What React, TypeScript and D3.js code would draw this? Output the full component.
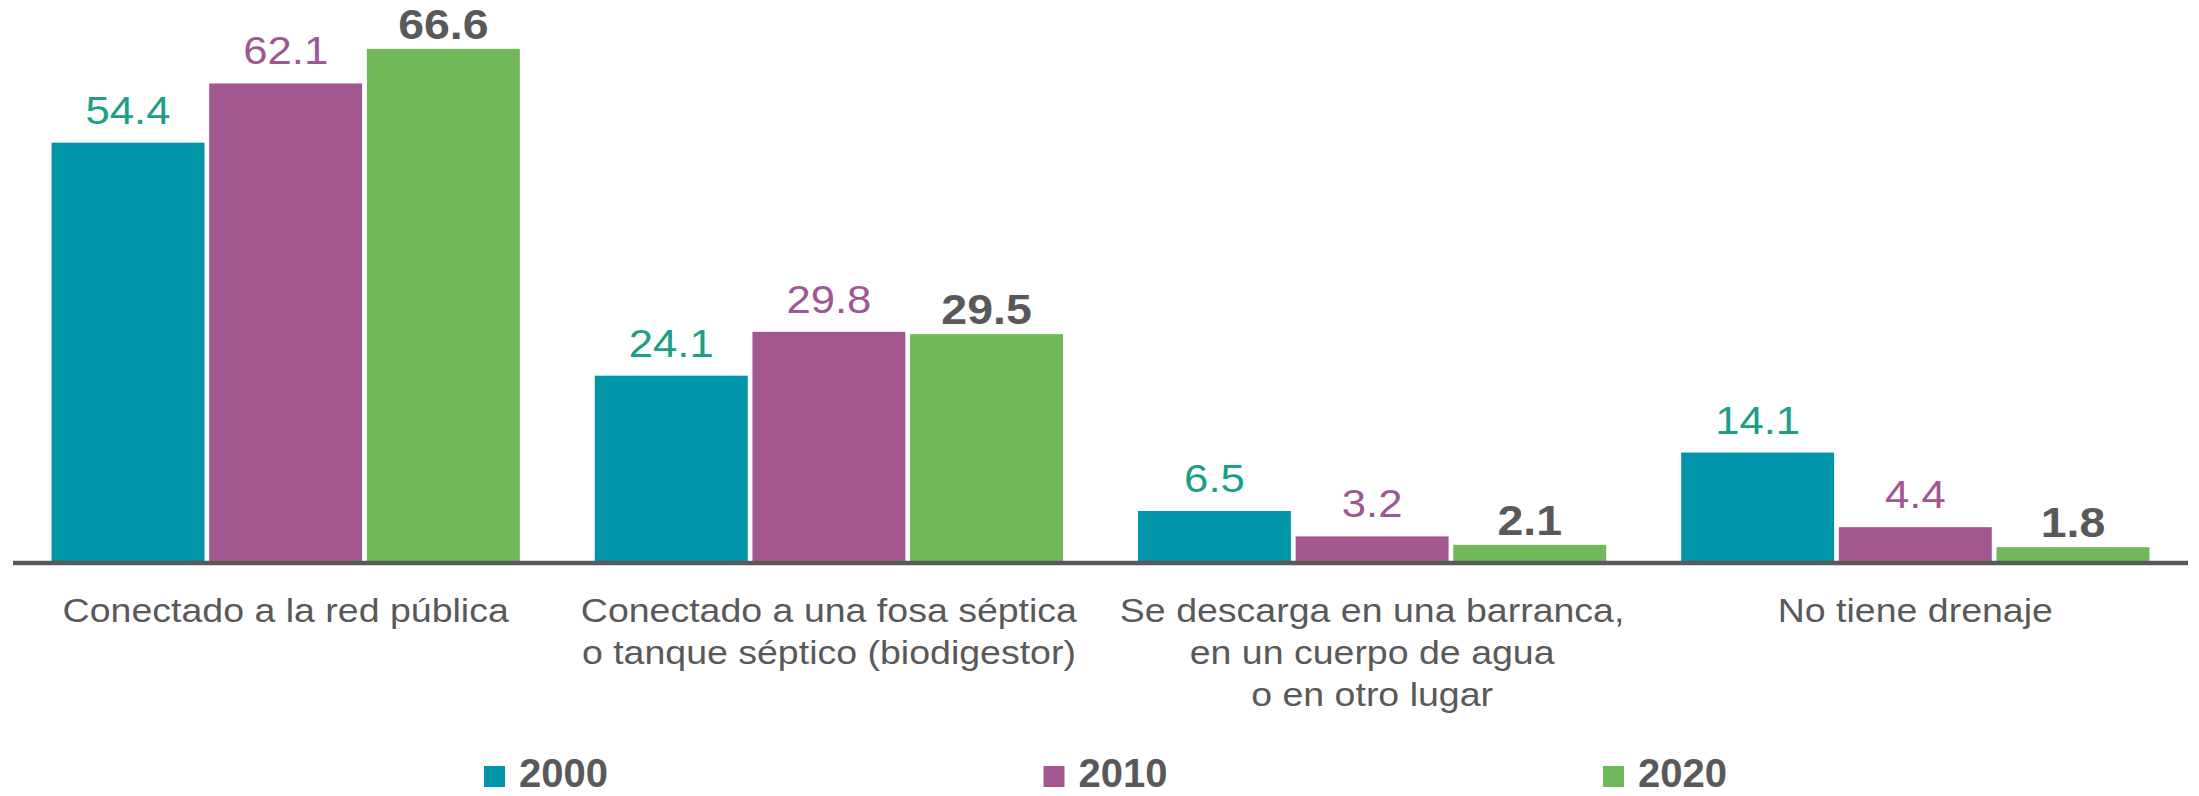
import React from "react";
import * as d3 from "d3";

const categories: string[][] = [
  ["Conectado a la red pública"],
  ["Conectado a una fosa séptica", "o tanque séptico (biodigestor)"],
  ["Se descarga en una barranca,", "en un cuerpo de agua", "o en otro lugar"],
  ["No tiene drenaje"],
];
const years = ["2000", "2010", "2020"];
const values2000 = [54.4, 24.1, 6.5, 14.1];
const values2010 = [62.1, 29.8, 3.2, 4.4];
const values2020 = [66.6, 29.5, 2.1, 1.8];
const seriesValues = [values2000, values2010, values2020];

const barColors = ["#0095A9", "#A2588F", "#71B85B"];
const labelColors = ["#1C9E88", "#9F5793", "#595959"];
const labelBold = [false, false, true];

const W = 2199;
const H = 796;
const FONT = "'Liberation Sans', Arial, Helvetica, sans-serif";
const STRETCH = 1.12;

export default function App() {
  const baseY = 561;
  const catKeys = categories.map((c) => c.join(" "));
  const x = d3
    .scaleBand<string>()
    .domain(catKeys)
    .range([13, 2188])
    .paddingInner(0.138)
    .paddingOuter(0.071);
  const xi = d3
    .scaleBand<string>()
    .domain(years)
    .range([0, x.bandwidth()])
    .paddingInner(0.03)
    .paddingOuter(0);
  const y = d3.scaleLinear().domain([0, 70]).range([baseY, baseY - 70 * 7.69]);

  const legendX = d3.scalePoint<string>().domain(years).range([484, 1603]);

  return (
    <svg
      width={W}
      height={H}
      style={{ position: "absolute", left: 0, top: 0, background: "#fff" }}
      fontFamily={FONT}
    >
      <rect x={0} y={0} width={W} height={H} fill="#fff" />
      {catKeys.map((ck, ci) => (
        <g key={ck} transform={`translate(${x(ck)},0)`}>
          {years.map((yr, si) => {
            const v = seriesValues[si][ci];
            const bx = xi(yr)!;
            const top = y(v);
            const ly = top - (labelBold[si] ? 10 : 19);
            return (
              <g key={yr}>
                <rect
                  x={bx}
                  y={top}
                  width={xi.bandwidth()}
                  height={baseY - top}
                  fill={barColors[si]}
                />
                <text
                  transform={`translate(${bx + xi.bandwidth() / 2},${ly}) scale(${labelBold[si] ? 1.08 : STRETCH},1)`}
                  textAnchor="middle"
                  fontSize={labelBold[si] ? 43 : 39}
                  fontWeight={labelBold[si] ? "bold" : "normal"}
                  fill={labelColors[si]}
                >
                  {v.toFixed(1)}
                </text>
              </g>
            );
          })}
          {categories[ci].map((line, li) => (
            <text
              key={li}
              transform={`translate(${x.bandwidth() / 2},${622 + li * 42}) scale(${STRETCH},1)`}
              textAnchor="middle"
              fontSize={33.5}
              fill="#595959"
            >
              {line}
            </text>
          ))}
        </g>
      ))}
      <line x1={13} x2={2188} y1={563} y2={563} stroke="#595959" strokeWidth={4.5} />
      {years.map((yr, si) => (
        <g key={yr} transform={`translate(${legendX(yr)},0)`}>
          <rect x={0} y={766} width={21} height={21} fill={barColors[si]} />
          <text x={35} y={787} fontSize={40} fontWeight="bold" fill="#595959">
            {yr}
          </text>
        </g>
      ))}
    </svg>
  );
}
